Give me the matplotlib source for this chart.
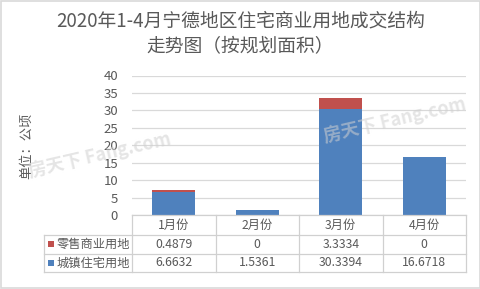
import matplotlib
matplotlib.use("Agg")
import matplotlib.pyplot as plt
from matplotlib.patches import Rectangle
from matplotlib.transforms import blended_transform_factory

plt.rcParams['font.family'] = ['Noto Sans CJK SC', 'DejaVu Sans']

title_lines = ["2020年1-4月宁德地区住宅商业用地成交结构", "走势图（按规划面积）"]
categories = ["1月份", "2月份", "3月份", "4月份"]
series_names = ["零售商业用地", "城镇住宅用地"]
retail = [0.4879, 0, 3.3334, 0]
residential = [6.6632, 1.5361, 30.3394, 16.6718]
retail_labels = ["0.4879", "0", "3.3334", "0"]
residential_labels = ["6.6632", "1.5361", "30.3394", "16.6718"]
yticks = [0, 5, 10, 15, 20, 25, 30, 35, 40]
ylabel = "单位：公顷"

BLUE = "#4f81bd"
RED = "#c0504d"
GRAY = "#595959"
GRID = "#d9d9d9"

W, H = 481, 289
fig = plt.figure(figsize=(W / 100, H / 100), dpi=100)
fig.patch.set_facecolor("white")

def fx(px):
    return px / W

def fy(py):
    return 1 - py / H

ax_l, ax_r, ax_t, ax_b = 132, 466, 75.5, 215
ax = fig.add_axes([fx(ax_l), fy(ax_b), fx(ax_r) - fx(ax_l), fy(ax_t) - fy(ax_b)])
x = list(range(len(categories)))
ax.bar(x, residential, width=0.52, color=BLUE, zorder=3)
ax.bar(x, retail, width=0.52, bottom=residential, color=RED, zorder=3)
ax.set_xlim(-0.5, len(categories) - 0.5)
ax.set_ylim(0, 40)
ax.set_yticks(yticks)
ax.set_yticklabels([str(t) for t in yticks], fontsize=9.5, color=GRAY)
ax.tick_params(axis="y", length=0, pad=10)
ax.set_xticks([])
for s in ax.spines.values():
    s.set_visible(False)
ax.grid(axis="y", color=GRID, linewidth=0.9, zorder=0)
ax.set_axisbelow(True)

# Title
fig.text(0.5, fy(21), title_lines[0], ha="center", va="center", fontsize=13.5, color=GRAY)
fig.text(0.5, fy(47), title_lines[1], ha="center", va="center", fontsize=13.5, color=GRAY)

# Y label
fig.text(fx(27), fy(146), ylabel, rotation=90, ha="center", va="center",
         fontsize=9.5, color=GRAY)

# Watermarks
for (wx, wy) in [(100, 155), (395, 120)]:
    fig.text(fx(wx), fy(wy), "房天下 Fang.com", rotation=13, ha="center", va="center",
             fontsize=13, color="#d0d0d0", alpha=0.55, fontweight="bold", zorder=10)

# Data table
trans = blended_transform_factory(ax.transData, fig.transFigure)
row_y = [215, 235, 253.5, 272]
lc = "#d0d0d0"
for b in [-0.5, 0.5, 1.5, 2.5, 3.5]:
    ax.plot([b, b], [fy(row_y[0]), fy(row_y[-1])], transform=trans, color=lc,
            linewidth=0.9, clip_on=False)
fig.add_artist(plt.Line2D([fx(ax_l), fx(ax_r)], [fy(row_y[0])] * 2, color=lc, linewidth=0.9))
for ry in row_y[1:]:
    fig.add_artist(plt.Line2D([fx(44), fx(ax_r)], [fy(ry)] * 2, color=lc, linewidth=0.9))
fig.add_artist(plt.Line2D([fx(44), fx(44)], [fy(row_y[1]), fy(row_y[-1])], color=lc, linewidth=0.9))

fs = 8.8
for i, c in enumerate(categories):
    ax.text(i, fy(225.5), c, transform=trans, ha="center", va="center", fontsize=fs, color=GRAY)
    ax.text(i, fy(244), retail_labels[i], transform=trans, ha="center", va="center",
            fontsize=fs, color=GRAY)
    ax.text(i, fy(263), residential_labels[i], transform=trans, ha="center", va="center",
            fontsize=fs, color=GRAY)

for name, col, yy in [(series_names[0], RED, 244), (series_names[1], BLUE, 263)]:
    fig.add_artist(Rectangle((fx(48), fy(yy + 3)), fx(6), 6 / H, facecolor=col,
                             edgecolor="none", transform=fig.transFigure))
    fig.text(fx(57), fy(yy), name, ha="left", va="center", fontsize=fs, color=GRAY)

# Figure border
fig.add_artist(Rectangle((0.002, 0.003), 0.995, 0.994, fill=False, edgecolor="#d9d9d9",
                         linewidth=1.2, transform=fig.transFigure))

fig.savefig("out.png", dpi=100, facecolor="white")
